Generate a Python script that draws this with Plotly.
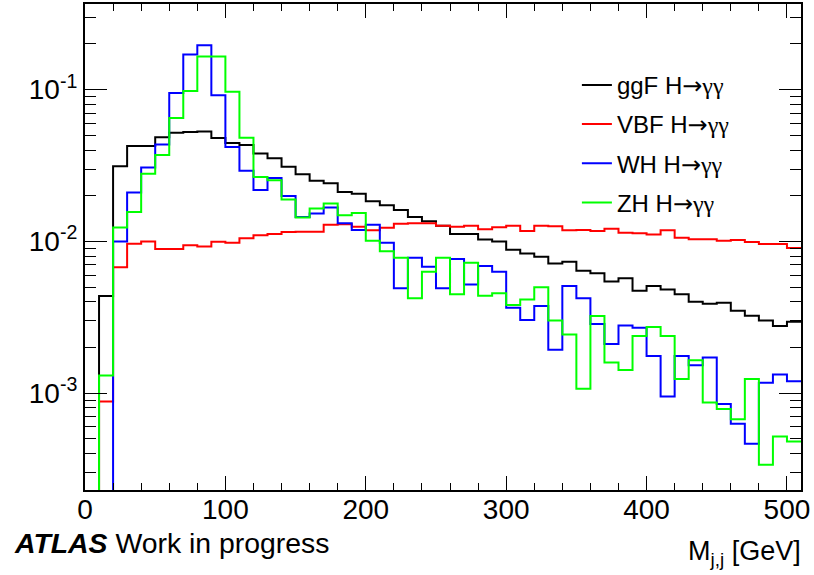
import plotly.graph_objects as go

# bin edges [GeV]
bin_edges = list(range(0, 520, 10))  # 0..510

ggF = [0, 0.00437, 0.0313, 0.0426, 0.0426, 0.0486, 0.0521, 0.0526, 0.053, 0.0481,
       0.0446, 0.0432, 0.0379, 0.0353, 0.031, 0.0277, 0.0251, 0.0242, 0.0212, 0.0206,
       0.0184, 0.0173, 0.0161, 0.0145, 0.0136, 0.0127, 0.0112, 0.0112, 0.0103, 0.0100,
       0.0088, 0.00834, 0.00792, 0.00716, 0.00734, 0.00641, 0.00616, 0.00545, 0.00571, 0.00473,
       0.00508, 0.00483, 0.00448, 0.00401, 0.00389, 0.00395, 0.00349, 0.00324, 0.00301, 0.00277,
       0.00296]

VBF = [0, 0.00088, 0.00675, 0.00964, 0.0100, 0.0089, 0.0089, 0.00942, 0.00927, 0.00994,
       0.0098, 0.0105, 0.0110, 0.0112, 0.01155, 0.0116, 0.0116, 0.0129, 0.0130, 0.0125,
       0.01185, 0.0123, 0.0131, 0.0132, 0.0132, 0.0127, 0.0125, 0.0127, 0.01205, 0.0124,
       0.0127, 0.0117, 0.0127, 0.0126, 0.01185, 0.0119, 0.0117, 0.0121, 0.0114, 0.0113,
       0.0111, 0.01185, 0.01057, 0.01035, 0.01035, 0.0101, 0.0102, 0.0099, 0.0096, 0.0096,
       0.00904]

WH = [0, 0, 0.0100, 0.0210, 0.0307, 0.0435, 0.095, 0.1706, 0.196, 0.092,
      0.0419, 0.0292, 0.0218, 0.0262, 0.0199, 0.0145, 0.0153, 0.0167, 0.0132, 0.0119,
      0.0129, 0.0098, 0.00491, 0.0078, 0.00681, 0.00491, 0.00766, 0.00521, 0.00688, 0.00631,
      0.00366, 0.00303, 0.00375, 0.00193, 0.00508, 0.00422, 0.00286, 0.00211, 0.00279, 0.0027,
      0.00176, 0.00095, 0.00176, 0.00153, 0.00172, 0.00085, 0.000628, 0.000464, 0.00117, 0.00133,
      0.0012]

ZH = [0, 0.00131, 0.01236, 0.0156, 0.0279, 0.0371, 0.065, 0.098, 0.1656, 0.1656,
      0.097, 0.0483, 0.0266, 0.0253, 0.0189, 0.0144, 0.0165, 0.0178, 0.0149, 0.0154,
      0.0101, 0.00863, 0.0078, 0.00422, 0.00631, 0.0078, 0.00448, 0.00723, 0.00438, 0.00455,
      0.00381, 0.00415, 0.00498, 0.00301, 0.00244, 0.00107, 0.00322, 0.00159, 0.00142, 0.00238,
      0.00273, 0.00238, 0.00124, 0.00165, 0.000867, 0.000788, 0.000674, 0.00124, 0.000337, 0.000519,
      0.000481]

SYM = ('<span style="font-family:DejaVu Sans">\u2192</span>'
       '<span style="font-family:Liberation Serif">\u03b3\u03b3</span>')
series_names = ["ggF H" + SYM, "VBF H" + SYM, "WH H" + SYM, "ZH H" + SYM]
series_values = [ggF, VBF, WH, ZH]
series_colors = ["#000000", "#ff0000", "#0000ff", "#00ff00"]

y_major = [1e-3, 1e-2, 1e-1]
y_major_text = ["10<sup>-3</sup>", "10<sup>-2</sup>", "10<sup>-1</sup>"]
x_major = [0, 100, 200, 300, 400, 500]
x_major_text = ["0", "100", "200", "300", "400", "500"]

FLOOR = 1e-6  # empty bins drawn at the bottom of the log axis

fig = go.Figure()
for i, (name, vals, col) in enumerate(zip(series_names, series_values, series_colors)):
    yy = [v if v > 0 else FLOOR for v in vals]
    yy = yy + [yy[-1]]
    fig.add_trace(go.Scatter(
        x=bin_edges, y=yy, mode="lines", name=name,
        line=dict(color=col, width=2, shape="hv"),
        legendgroup=f"g{i}",
    ))

y_minor = [m * 10.0 ** e for e in (-4, -3, -2, -1) for m in range(2, 10)]
x_minor = [v for v in range(20, 520, 20) if v % 100 != 0]

font_family = "Liberation Sans, Arial, sans-serif"

fig.update_layout(
    width=814, height=575,
    margin=dict(l=85, r=13, t=4, b=85),
    paper_bgcolor="white", plot_bgcolor="white",
    font=dict(family=font_family, color="black"),
    showlegend=True,
    legend=dict(
        x=0.687, y=0.879, xanchor="left", yanchor="top",
        font=dict(size=24, family=font_family),
        bgcolor="rgba(0,0,0,0)", borderwidth=0,
        itemwidth=30, tracegroupgap=5,
    ),
    xaxis=dict(
        range=[0, 510], showgrid=False, zeroline=False,
        showline=True, linecolor="black", linewidth=2, mirror="allticks",
        ticks="inside", ticklen=14, tickwidth=1, tickcolor="black",
        tickmode="array", tickvals=x_major, ticktext=x_major_text,
        tickfont=dict(size=28), ticklabelstandoff=-7, automargin=False,
        minor=dict(tickmode="array", tickvals=x_minor, ticks="inside", ticklen=7,
                   tickwidth=1, tickcolor="black", showgrid=False),
    ),
    yaxis=dict(
        type="log", range=[-3.638, -0.4355], showgrid=False, zeroline=False,
        showline=True, linecolor="black", linewidth=2, mirror="allticks",
        ticks="inside", ticklen=22, tickwidth=1, tickcolor="black",
        tickmode="array", tickvals=y_major, ticktext=y_major_text,
        tickfont=dict(size=28), ticklabelstandoff=0, automargin=False,
        minor=dict(tickmode="array", tickvals=y_minor, ticks="inside", ticklen=11,
                   tickwidth=1, tickcolor="black", showgrid=False),
    ),
    annotations=[
        dict(text="<b><i>ATLAS</i></b> Work in progress", xref="paper", yref="paper",
             x=(12 - 85) / 716, y=(490 - 543) / 486, xanchor="left", yanchor="middle",
             showarrow=False, font=dict(size=28.4, family=font_family)),
        dict(text="M<sub>j,j</sub> [GeV]", xref="paper", yref="paper",
             x=(803 - 85) / 716, y=(490 - 553) / 486, xanchor="right", yanchor="middle",
             showarrow=False, font=dict(size=27, family=font_family)),
    ],
)

fig.write_html("out.html", config={"displayModeBar": False})

# remove the default page margin so the figure sits at the window's top-left corner
with open("out.html", "r", encoding="utf-8") as f:
    html = f.read()
html = html.replace("<head>", "<head><style>html,body{margin:0;padding:0;overflow:hidden;}</style>", 1)
with open("out.html", "w", encoding="utf-8") as f:
    f.write(html)
